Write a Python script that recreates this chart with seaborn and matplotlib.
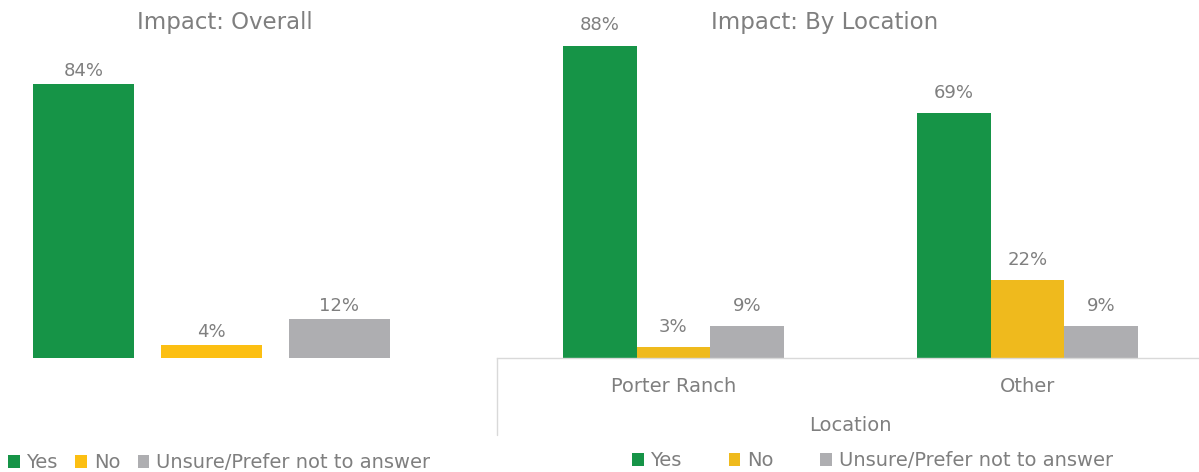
import pandas as pd
import seaborn as sns
import matplotlib.pyplot as plt
import matplotlib.transforms as mtransforms

# Dados
answers = ["Yes", "No", "Unsure/Prefer not to answer"]
overall_pct = [84, 4, 12]

locations = ["Porter Ranch", "Other"]
yes_by_location = [88, 69]
no_by_location = [3, 22]
unsure_by_location = [9, 9]

overall_colors = ["#169447", "#FCBF12", "#AEAEB1"]
location_colors = ["#169447", "#EFBA1D", "#AEAEB1"]
text_gray = "#7F7F7F"

W, H = 1199, 472


def px_rect(x0, x1, ytop, ybot):
    """Converte uma caixa em pixels para coordenadas da figura."""
    return [x0 / W, (H - ybot) / H, (x1 - x0) / W, (ybot - ytop) / H]


def main():
    sns.set_style("white")
    plt.rcParams["font.family"] = ["DejaVu Sans"]

    df_overall = pd.DataFrame({"answer": answers, "pct": overall_pct})
    df_location = pd.DataFrame({
        "location": locations * 3,
        "answer": [a for a in answers for _ in locations],
        "pct": yes_by_location + no_by_location + unsure_by_location,
    })

    fig = plt.figure(figsize=(W / 100, H / 100), dpi=100)
    ax1 = fig.add_axes(px_rect(20, 403, 358 - 95 * 3.26, 358))
    ax2 = fig.add_axes(px_rect(496.5, 1204.5, 358 - 95 * 3.55, 358))

    # Painel esquerdo: geral
    sns.barplot(
        data=df_overall, x="answer", y="pct", hue="answer",
        palette=overall_colors, width=0.79, saturation=1, linewidth=0,
        legend=True, ax=ax1,
    )
    ax1.set_ylim(0, 95)
    ax1.set_xlim(-0.5, 2.5)
    ax1.set(xticks=[], yticks=[], xlabel="", ylabel="")
    for side in ax1.spines.values():
        side.set_visible(False)
    for cont in ax1.containers:
        ax1.bar_label(cont, fmt="%.0f%%", padding=3, fontsize=13, color=text_gray)

    # Painel direito: por localização
    sns.barplot(
        data=df_location, x="location", y="pct", hue="answer",
        hue_order=answers, palette=location_colors, width=0.624,
        saturation=1, linewidth=0, ax=ax2,
    )
    ax2.set_ylim(0, 95)
    ax2.set_xlim(-0.5, 1.5)
    ax2.set_yticks([])
    ax2.set_ylabel("")
    ax2.tick_params(axis="x", length=0, pad=14, labelsize=14, labelcolor=text_gray)
    ax2.set_xlabel("Location", fontsize=14, color=text_gray, labelpad=14)
    for name, side in ax2.spines.items():
        side.set_visible(name == "bottom")
    ax2.spines["bottom"].set_color("#D9D9D9")
    ax2.spines["bottom"].set_linewidth(1)
    trans = mtransforms.blended_transform_factory(ax2.transData, ax2.transAxes)
    ax2.plot([-0.5, -0.5], [0, -77 / 337.25], transform=trans,
             color="#D9D9D9", lw=1, clip_on=False)
    for cont in ax2.containers:
        ax2.bar_label(cont, fmt="%.0f%%", padding=8, fontsize=13, color=text_gray)

    # Títulos
    fig.text(225 / W, (H - 22) / H, "Impact: Overall", ha="center", va="center",
             fontsize=16.5, color=text_gray)
    fig.text(825 / W, (H - 22) / H, "Impact: By Location", ha="center", va="center",
             fontsize=16.5, color=text_gray)

    # Legendas
    legend_style = dict(
        ncol=3, frameon=False, title=None, bbox_transform=fig.transFigure,
        borderpad=0, borderaxespad=0, handlelength=0.6, handleheight=0.6,
        handletextpad=0.35, fontsize=14, labelcolor=text_gray,
    )
    sns.move_legend(ax1, "center left", bbox_to_anchor=(8 / W, (H - 463) / H),
                    columnspacing=0.9, **legend_style)
    sns.move_legend(ax2, "center left", bbox_to_anchor=(632 / W, (H - 461) / H),
                    columnspacing=2.4, **legend_style)

    fig.savefig("out.png", dpi=100)
    plt.close(fig)


if __name__ == "__main__":
    main()
